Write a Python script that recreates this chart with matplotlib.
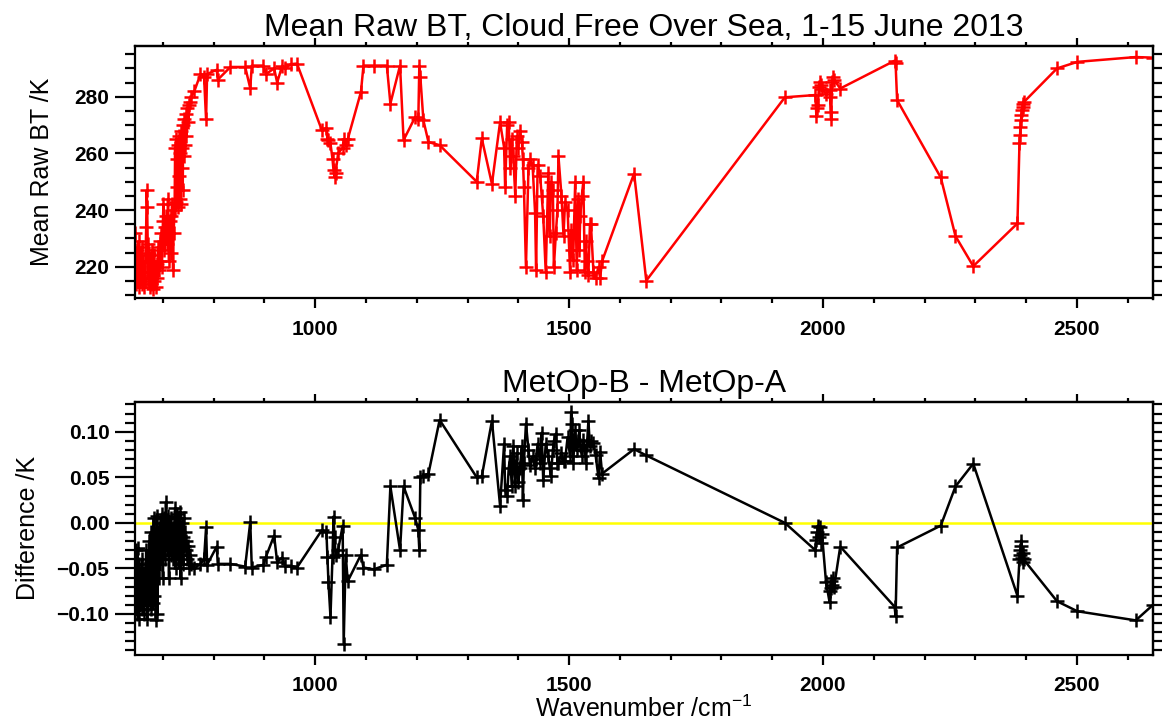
import matplotlib
matplotlib.use('Agg')
import matplotlib.pyplot as plt
from matplotlib.ticker import MultipleLocator, NullFormatter

plt.rcParams['font.family'] = ['Liberation Sans', 'DejaVu Sans']

# channel wavenumbers (cm-1)
wavenumber = [
    645, 647, 649, 650, 652, 653, 655, 656, 658, 659, 661, 662, 664, 665, 667, 668, 669, 670,
    671, 673, 674, 676, 677, 679, 680, 682, 683, 685, 686, 688, 689, 691, 692, 694, 695, 697,
    698, 700, 701, 703, 704, 706, 707, 709, 710, 712, 713, 715, 716, 718, 720, 721,
    723, 724, 725, 726, 727, 728, 729, 730, 731, 732, 733, 734, 735, 736, 737, 738, 739, 740,
    741, 742, 743, 745, 746, 748, 750, 752, 754, 756,
    762, 774, 781, 785, 787, 806, 808, 833, 862, 872, 875, 898, 903, 919, 925, 935, 940, 952, 964,
    1013, 1022, 1024, 1026, 1030, 1034, 1036, 1038, 1040, 1045, 1054, 1056, 1060, 1064, 1090,
    1095, 1115, 1141, 1148, 1167, 1174, 1197, 1203, 1205, 1207, 1213, 1223, 1245, 1318, 1328, 1348,
    1364, 1372, 1374, 1378, 1381, 1384, 1387, 1390, 1394, 1397, 1400, 1403, 1407, 1409, 1411,
    1415, 1420, 1423, 1428, 1433, 1435, 1438, 1443, 1446, 1449, 1454, 1459, 1462, 1464, 1468,
    1470, 1474, 1477, 1479, 1485, 1489, 1492, 1497, 1502, 1504, 1506, 1508, 1512, 1515, 1518,
    1520, 1522, 1525, 1528, 1531, 1533, 1535, 1538, 1541, 1543, 1548, 1552, 1558, 1561, 1565,
    1628, 1652, 1925, 1985, 1987, 1989, 1990, 1992, 1994, 1996, 1998, 2006, 2013, 2014, 2015,
    2016, 2018, 2020, 2022, 2034, 2141, 2143, 2146, 2232, 2261, 2296, 2383, 2387, 2388, 2389,
    2390, 2391, 2392, 2393, 2394, 2395, 2461, 2501, 2616, 2650,
]

# mean raw brightness temperature (K)
mean_bt = [
    232, 214, 226, 215, 229, 213, 224, 216, 227, 214, 222, 213, 218, 215, 234, 247, 241, 228,
    216, 225, 213, 222, 214, 226, 212, 224, 215, 220, 213, 221, 216, 227, 219, 229, 222, 232,
    220, 236, 242, 226, 234, 230, 238, 228, 244, 222, 236, 238, 225, 242, 219, 232,
    240, 262, 243, 265, 248, 258, 241, 263, 252, 266, 244, 260, 242, 268, 255, 262, 247, 270,
    259, 272, 263, 274, 266, 276, 271, 277, 278, 280,
    282, 288, 287, 272, 288, 289.5, 286, 290.5, 290.5, 283, 291, 291, 288, 290, 285, 291, 290,
    291.5, 291.7,
    268.2, 269, 265, 264.7, 263.5, 258, 254, 251.7, 253, 260, 262, 265, 263, 265, 281.7,
    291, 291, 291, 277.6, 291, 264.7, 272.9, 272, 291, 287, 271.7, 264, 262.9, 250, 265.3, 249.2,
    271, 262, 248, 270, 271, 255, 265, 259, 245, 266, 262, 268, 264, 258, 248,
    220, 255, 258, 256, 239, 219, 256, 252, 245, 238, 218, 253, 231, 250, 247,
    220, 232, 240, 259, 245, 231, 243, 240, 218, 233, 226, 222.5, 250, 219, 244,
    226, 238, 245, 250, 218, 229, 222, 217, 235, 235, 218, 216, 220, 216, 222,
    252.9, 215.1, 279.8, 280.6, 273.2, 275.9, 277, 283.5, 285.3, 284.1, 282.6, 281, 282.3, 280,
    274.7, 272, 285.3, 287, 285.9, 282.9, 292.7, 291.8, 278.8, 251.5, 230.8, 220.2, 235.3, 263.5,
    266.4, 269.4, 271.7, 273.5, 275.3, 276.4, 277.6, 278, 290, 292.3, 294, 293.8,
]

# MetOp-B minus MetOp-A (K)
bt_diff = [
    -0.065, -0.030, -0.100, -0.028, -0.105, -0.045, -0.090, -0.060, -0.095, -0.040,
    -0.080, -0.100, -0.050, -0.085, -0.030, -0.070, -0.105, -0.050, -0.090, -0.020,
    -0.075, -0.010, -0.095, -0.040, -0.088, 0.005, -0.080, -0.020, -0.107, 0.008,
    -0.100, -0.010, -0.060, 0.000, -0.045, -0.025, 0.010, -0.060, -0.015, 0.005,
    -0.040, 0.023, -0.010, -0.030, 0.008, -0.061, -0.020, 0.005, -0.035, -0.010,
    -0.040, 0.000,
    -0.030, 0.016, -0.050, -0.005, -0.020, 0.010, -0.040, 0.005, -0.030, -0.010,
    -0.050, 0.012, -0.061, -0.020, 0.000, -0.035, -0.015, -0.045, 0.005, -0.025,
    -0.010, -0.030, -0.020, -0.040, -0.025, -0.050, -0.035, -0.045,
    -0.050, -0.045, -0.040, -0.005, -0.046, -0.026, -0.045, -0.045, -0.048, 0.001,
    -0.049, -0.046, -0.037, -0.014, -0.043, -0.038, -0.047, -0.047, -0.049,
    -0.008, -0.010, -0.037, -0.065, -0.103, -0.037, 0.007, -0.016, -0.035, -0.030,
    -0.003, -0.133, -0.035, -0.064, -0.035, -0.049, -0.051, -0.046, 0.040, -0.030,
    0.040, 0.005, -0.008, -0.030, 0.050, 0.052, 0.054, 0.113, 0.050, 0.051, 0.112,
    0.019, 0.087, 0.036, 0.029, 0.060, 0.073, 0.040, 0.084, 0.040, 0.077,
    0.045, 0.060, 0.084, 0.025, 0.066, 0.109, 0.080, 0.063, 0.073, 0.060,
    0.070, 0.087, 0.066, 0.099, 0.047, 0.087, 0.073, 0.060, 0.051, 0.080,
    0.090, 0.098, 0.066, 0.066, 0.077, 0.068, 0.068, 0.094, 0.073, 0.122,
    0.109, 0.066, 0.102, 0.080, 0.090, 0.102, 0.085, 0.073, 0.091, 0.080,
    0.066, 0.085, 0.112, 0.084, 0.090, 0.088, 0.075, 0.049, 0.078, 0.054,
    0.081, 0.074, 0.000, -0.030, -0.019, -0.010, -0.003, -0.015, -0.005, -0.022,
    -0.012, -0.065, -0.087, -0.075, -0.072, -0.064, -0.068, -0.060, -0.070, -0.026,
    -0.092, -0.102, -0.027, -0.003, 0.040, 0.065, -0.080, -0.040, -0.035, -0.030,
    -0.025, -0.020, -0.038, -0.033, -0.043, -0.040, -0.086, -0.097, -0.107, -0.090,
]

x_range = (645, 2650)


def style_axes(ax, y_major, y_minor):
    """ticks out on all four sides, long ones on the left"""
    ax.set_xlim(*x_range)
    ax.xaxis.set_major_locator(MultipleLocator(500))
    ax.xaxis.set_minor_locator(MultipleLocator(100))
    ax.yaxis.set_major_locator(MultipleLocator(y_major))
    ax.yaxis.set_minor_locator(MultipleLocator(y_minor))
    for spine in ax.spines.values():
        spine.set_linewidth(1.6)
    ax.tick_params(axis='y', which='major', direction='out', length=14.4, width=1.6,
                   left=True, right=False, labelsize=15, pad=4)
    ax.tick_params(axis='y', which='minor', direction='out', length=7.2, width=1.6,
                   left=True, right=False)
    ax.tick_params(axis='x', which='major', direction='out', length=7.2, width=1.6,
                   bottom=True, top=False, labelsize=15, pad=8)
    ax.tick_params(axis='x', which='minor', direction='out', length=3.6, width=1.6,
                   bottom=True, top=False)
    for lab in ax.get_xticklabels() + ax.get_yticklabels():
        lab.set_fontweight('bold')

    right = ax.secondary_yaxis('right')
    right.yaxis.set_major_locator(MultipleLocator(y_major))
    right.yaxis.set_minor_locator(MultipleLocator(y_minor))
    right.yaxis.set_major_formatter(NullFormatter())
    right.tick_params(which='both', direction='out', length=6.5, width=1.6)
    right.spines['right'].set_linewidth(1.6)

    top = ax.secondary_xaxis('top')
    top.xaxis.set_major_locator(MultipleLocator(500))
    top.xaxis.set_minor_locator(MultipleLocator(100))
    top.xaxis.set_major_formatter(NullFormatter())
    top.tick_params(which='major', direction='out', length=5.8, width=1.6)
    top.tick_params(which='minor', direction='out', length=2.9, width=1.6)
    top.spines['top'].set_linewidth(1.6)


def plot():
    """two panels: mean BT and B-A difference"""
    fig = plt.figure(figsize=(11.66, 7.24), dpi=100)
    ax1 = fig.add_axes([135 / 1166, 1 - 298.5 / 724, 1018 / 1166, 252.5 / 724])
    ax2 = fig.add_axes([135 / 1166, 1 - 655 / 724, 1018 / 1166, 253.3 / 724])

    ax1.plot(wavenumber, mean_bt, color='#ff0000', lw=1.8, marker='+', ms=10, mew=1.8)
    ax1.set_ylim(208.8, 297.9)
    style_axes(ax1, 20, 5)
    ax1.set_title('Mean Raw BT, Cloud Free Over Sea, 1-15 June 2013', fontsize=23, pad=7)
    ax1.set_ylabel('Mean Raw BT /K', fontsize=18, labelpad=15)

    ax2.axhline(0, color='#ffff00', lw=1.8, zorder=1)
    ax2.plot(wavenumber, bt_diff, color='black', lw=1.8, marker='+', ms=10, mew=1.8, zorder=2)
    ax2.set_ylim(-0.145, 0.133)
    style_axes(ax2, 0.05, 0.01)
    ax2.set_title('MetOp-B - MetOp-A', fontsize=23, pad=7)
    ax2.set_ylabel('Difference /K', fontsize=18, labelpad=12)
    ax2.set_xlabel('Wavenumber /cm$^{\\mathregular{-1}}$', fontsize=18, labelpad=0)

    fig.savefig('out.png', dpi=100)


if __name__ == "__main__":
    plot()
